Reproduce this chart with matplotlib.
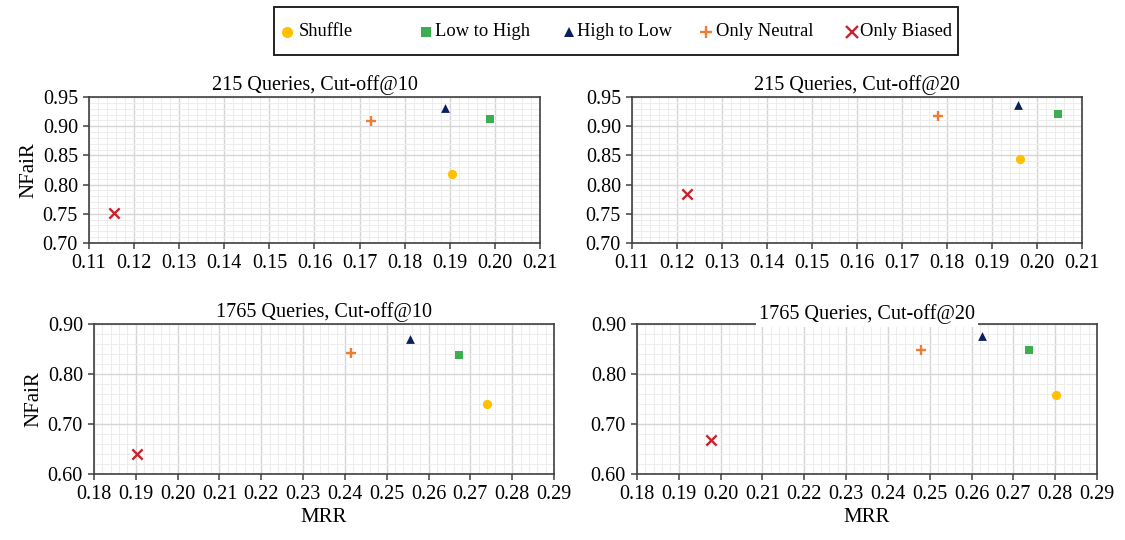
import matplotlib.pyplot as plt
from matplotlib.lines import Line2D
from matplotlib.patches import Rectangle
from matplotlib.ticker import MultipleLocator, AutoMinorLocator, FormatStrFormatter

plt.rcParams['font.family'] = ['Liberation Serif', 'DejaVu Serif']

methods = ['Shuffle', 'Low to High', 'High to Low', 'Only Neutral', 'Only Biased']
colors = ['#FFC000', '#3BAE4F', '#0B1F5C', '#ED7D31', '#C8232C']
markers = ['o', 's', '^', '+', 'x']
sizes = [44, 36, 40, 60, 55]

titles = ['215 Queries, Cut-off@10', '215 Queries, Cut-off@20',
          '1765 Queries, Cut-off@10', '1765 Queries, Cut-off@20']

# MRR / NFaiR per method, one pair of lists per panel
mrr_215_10 = [0.1905, 0.1990, 0.1890, 0.1725, 0.1155]
nfair_215_10 = [0.818, 0.912, 0.932, 0.909, 0.751]
mrr_215_20 = [0.1962, 0.2047, 0.1957, 0.1780, 0.1222]
nfair_215_20 = [0.843, 0.921, 0.937, 0.917, 0.784]
mrr_1765_10 = [0.2740, 0.2672, 0.2555, 0.2415, 0.1903]
nfair_1765_10 = [0.741, 0.838, 0.871, 0.842, 0.640]
mrr_1765_20 = [0.2801, 0.2737, 0.2625, 0.2480, 0.1976]
nfair_1765_20 = [0.759, 0.848, 0.876, 0.849, 0.668]

panels = [(mrr_215_10, nfair_215_10), (mrr_215_20, nfair_215_20),
          (mrr_1765_10, nfair_1765_10), (mrr_1765_20, nfair_1765_20)]

W, H = 1125, 540
fig = plt.figure(figsize=(W / 100, H / 100), dpi=100)

def px_rect(l, t, r, b):
    return [l / W, 1 - b / H, (r - l) / W, (b - t) / H]

# axes boxes in pixels: left, top, right, bottom
boxes = [(89, 97, 540, 243), (632, 97, 1082, 243),
         (94, 324, 554, 474), (637, 324, 1097, 474)]

for i, (box, (xs, ys)) in enumerate(zip(boxes, panels)):
    ax = fig.add_axes(px_rect(*box))
    for x, y, c, m, s in zip(xs, ys, colors, markers, sizes):
        if m in '+x':
            ax.scatter(x, y, marker=m, s=s, color=c, linewidths=1.7, zorder=3)
        else:
            ax.scatter(x, y, marker=m, s=s, color=c, linewidths=0, zorder=3)
    if i < 2:
        ax.set_xlim(0.11, 0.21)
        ax.set_ylim(0.70, 0.95)
        ax.yaxis.set_major_locator(MultipleLocator(0.05))
        ax.set_xticks([0.11 + 0.01 * k for k in range(11)])
    else:
        ax.set_xlim(0.18, 0.29)
        ax.set_ylim(0.60, 0.90)
        ax.yaxis.set_major_locator(MultipleLocator(0.10))
        ax.set_xticks([0.18 + 0.01 * k for k in range(12)])
    ax.xaxis.set_major_formatter(FormatStrFormatter('%.2f'))
    ax.yaxis.set_major_formatter(FormatStrFormatter('%.2f'))
    ax.xaxis.set_minor_locator(AutoMinorLocator(5))
    ax.yaxis.set_minor_locator(AutoMinorLocator(5))
    ax.grid(which='major', color='#D6D6D6', linewidth=1.0)
    ax.grid(which='minor', color='#EDEDED', linewidth=0.7)
    ax.set_axisbelow(True)
    ax.tick_params(which='major', labelsize=14.5, length=4, width=1.1,
                   color='#404040', pad=4)
    ax.tick_params(which='minor', length=0)
    for sp in ax.spines.values():
        sp.set_color('#404040')
        sp.set_linewidth(1.2)
    if i == 3:
        # this title sits on a white box that cuts into the top spine
        ax.set_title(titles[i], fontsize=14.5, pad=2,
                     bbox=dict(facecolor='white', edgecolor='none', pad=2.5))
    else:
        ax.set_title(titles[i], fontsize=14.5, pad=5)
    if i in (0, 2):
        ax.set_ylabel('NFaiR', fontsize=15, labelpad=3)
    if i >= 2:
        ax.set_xlabel('MRR', fontsize=15, labelpad=3)

# legend box across the top
fig.add_artist(Rectangle((274 / W, 1 - 55 / H), 684 / W, 48 / H,
                         transform=fig.transFigure, facecolor='white',
                         edgecolor='#222222', linewidth=1.4))
marker_x = [287, 426, 569, 706, 852]
text_x = [299, 435, 577, 716, 860]
ly = 1 - 32 / H
for mx, tx, m, c, lab in zip(marker_x, text_x, markers, colors, methods):
    if m in '+x':
        h = Line2D([mx / W], [ly], transform=fig.transFigure, linestyle='none',
                   marker=m, color=c, markersize=9, markeredgewidth=1.7)
    else:
        h = Line2D([mx / W], [ly], transform=fig.transFigure, linestyle='none',
                   marker=m, color=c, markersize=8 if m == 'o' else 6.5,
                   markeredgewidth=0)
    fig.add_artist(h)
    fig.text(tx / W, ly, lab, fontsize=13.3, ha='left', va='center')

fig.savefig('out.png', dpi=100)
